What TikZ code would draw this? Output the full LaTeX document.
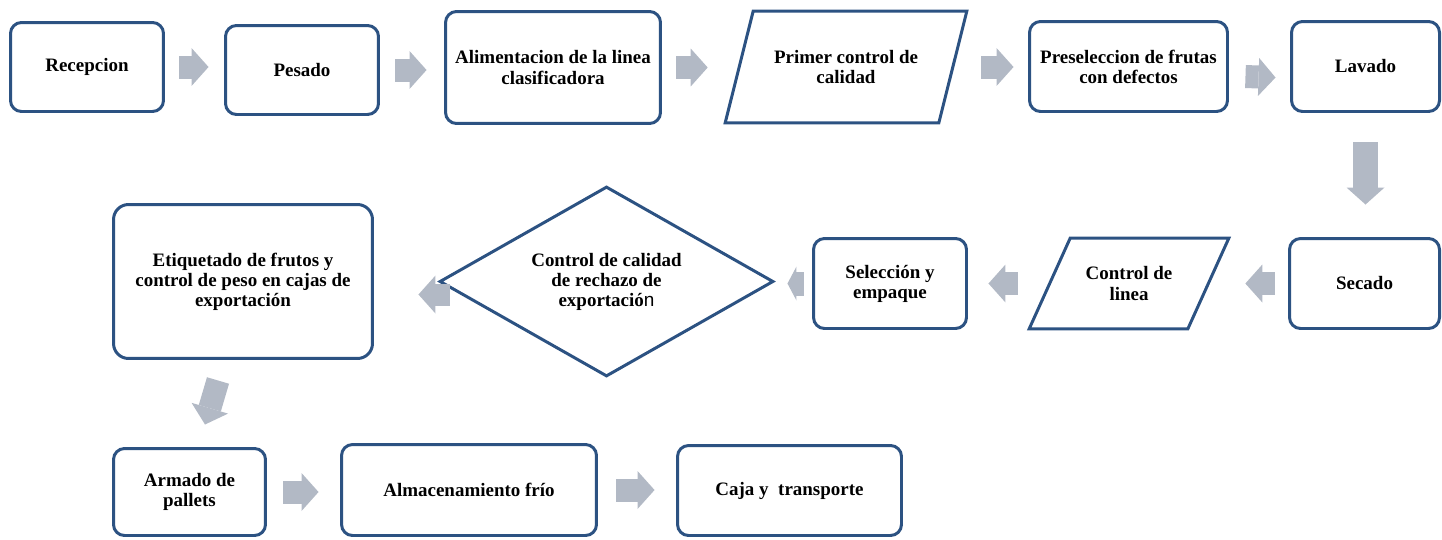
\documentclass[tikz,border=0pt]{standalone}
\usepackage{fontspec}
\setmainfont{Liberation Serif}
\newfontfamily\sansn{Liberation Sans}
\usetikzlibrary{shapes.geometric,arrows.meta,calc}
\definecolor{boxblue}{RGB}{44,82,130}
\definecolor{arrowgray}{RGB}{178,185,197}
\tikzset{
  lbl/.style={align=center,font=\bfseries\fontsize{10.8}{11.4}\selectfont},
  box/.style={lbl,draw=boxblue,line width=1.7pt,rounded corners=0.22cm,fill=white},
  holder/.style={lbl,inner sep=0pt},
  slanted/.style={draw=boxblue,line width=1.7pt},
  decision/.style={lbl,diamond,draw=boxblue,line width=1.7pt,aspect=1.75,inner sep=0pt},
  flow/.style={draw=arrowgray,line width=0.46cm,-{Triangle[length=0.34cm,width=0.76cm,line width=0pt]}},
}

\begin{document}
\begin{tikzpicture}[x=0.02cm,y=0.02cm]
  \useasboundingbox (0,0) rectangle (1442,539);
  % fila 1
  \node[box,minimum width=3.06cm,minimum height=1.78cm] (rec) at (87,472) {Recepcion};
  \node[box,minimum width=3.06cm,minimum height=1.78cm] (pes) at (302,469) {Pesado};
  \node[box,minimum width=4.30cm,minimum height=2.24cm] (ali) at (553,471.5) {Alimentacion de la linea\\clasificadora};
  \node[holder,minimum width=4.82cm,minimum height=2.22cm] (pri) at (846,472) {Primer control de\\calidad};
  \draw[slanted] ($(pri.north west)+(28,0)$) -- (pri.north east) -- ($(pri.south east)+(-28,0)$) -- (pri.south west) -- cycle;
  \node[box,minimum width=3.96cm,minimum height=1.80cm] (pre) at (1128.5,472.5) {Preseleccion de frutas\\con defectos};
  \node[box,minimum width=2.96cm,minimum height=1.80cm] (lav) at (1365.5,472.5) {Lavado};
  % fila 2
  \node[box,minimum width=3.00cm,minimum height=1.80cm] (sec) at (1364.5,255.5) {Secado};
  \node[holder,minimum width=3.98cm,minimum height=1.80cm] (lin) at (1129,255.5) {Control de\\linea};
  \draw[slanted] ($(lin.north west)+(41,0)$) -- (lin.north east) -- ($(lin.south east)+(-41,0)$) -- (lin.south west) -- cycle;
  \node[box,minimum width=3.06cm,minimum height=1.80cm] (sel) at (890,255.5) {Selección y\\empaque};
  \node[decision,minimum width=6.68cm,minimum height=3.80cm] (dia) at (606.5,257.5) {Control de calidad\\de rechazo de\\exportació{\sansn\mdseries n}};
  \node[box,rounded corners=0.3cm,minimum width=5.18cm,minimum height=3.08cm] (eti) at (243,257.5) {Etiquetado de frutos y\\control de peso en cajas de\\exportación};
  % fila 3
  \node[box,minimum width=3.04cm,minimum height=1.74cm] (arm) at (189.5,47) {Armado de\\pallets};
  \node[box,minimum width=5.10cm,minimum height=1.82cm] (alm) at (469,49) {Almacenamiento frío};
  \node[box,minimum width=4.48cm,minimum height=1.80cm] (caj) at (789.5,48.5) {Caja y \ transporte};
  % flechas
  \draw[flow,shorten <=0.29cm,shorten >=0.31cm] (rec.east) -- (pes.west |- rec.east);
  \draw[flow,shorten <=0.31cm,shorten >=0.35cm] (pes.east) -- (ali.west |- pes.east);
  \draw[flow,shorten <=0.29cm,shorten >=0.35cm] (ali.east) -- (pri.west |- ali.east);
  \draw[flow,shorten <=0.29cm,shorten >=0.29cm] (pri.east) -- (pre.west |- pri.east);
  \draw[flow,shorten <=0.33cm,shorten >=0.29cm] ($(pre.east)+(0,-9.5)$) -- ($(lav.west)+(0,-11.5)$);
  \draw[flow,line width=0.5cm,shorten <=0.59cm,shorten >=0.65cm] (lav.south) -- (lav.south |- sec.north);
  \draw[flow,shorten <=0.27cm,shorten >=0.33cm] (sec.west) -- (lin.east);
  \draw[flow,shorten <=0.23cm,shorten >=0.41cm] (lin.west) -- (sel.east);
  \draw[draw=arrowgray,line width=0.48cm,-{Triangle[length=0.18cm,width=0.68cm,line width=0pt]},shorten <=0.17cm,shorten >=0.25cm] (sel.west) -- (dia.east |- sel.west);
  \draw[flow,line width=0.44cm,shorten <=-0.23cm,shorten >=0.89cm] ($(dia.west)+(0,-13)$) -- ($(eti.east)+(0,-13)$);
  \draw[flow] ($(eti.south)+(-25,-20.5)$) -- ($(arm.north)+(15.5,22.5)$);
  \draw[flow,shorten <=0.33cm,shorten >=0.43cm] (arm.east) -- (alm.west |- arm.east);
  \draw[flow,shorten <=0.37cm,shorten >=0.43cm] (alm.east) -- (caj.west |- alm.east);
\end{tikzpicture}
\end{document}
